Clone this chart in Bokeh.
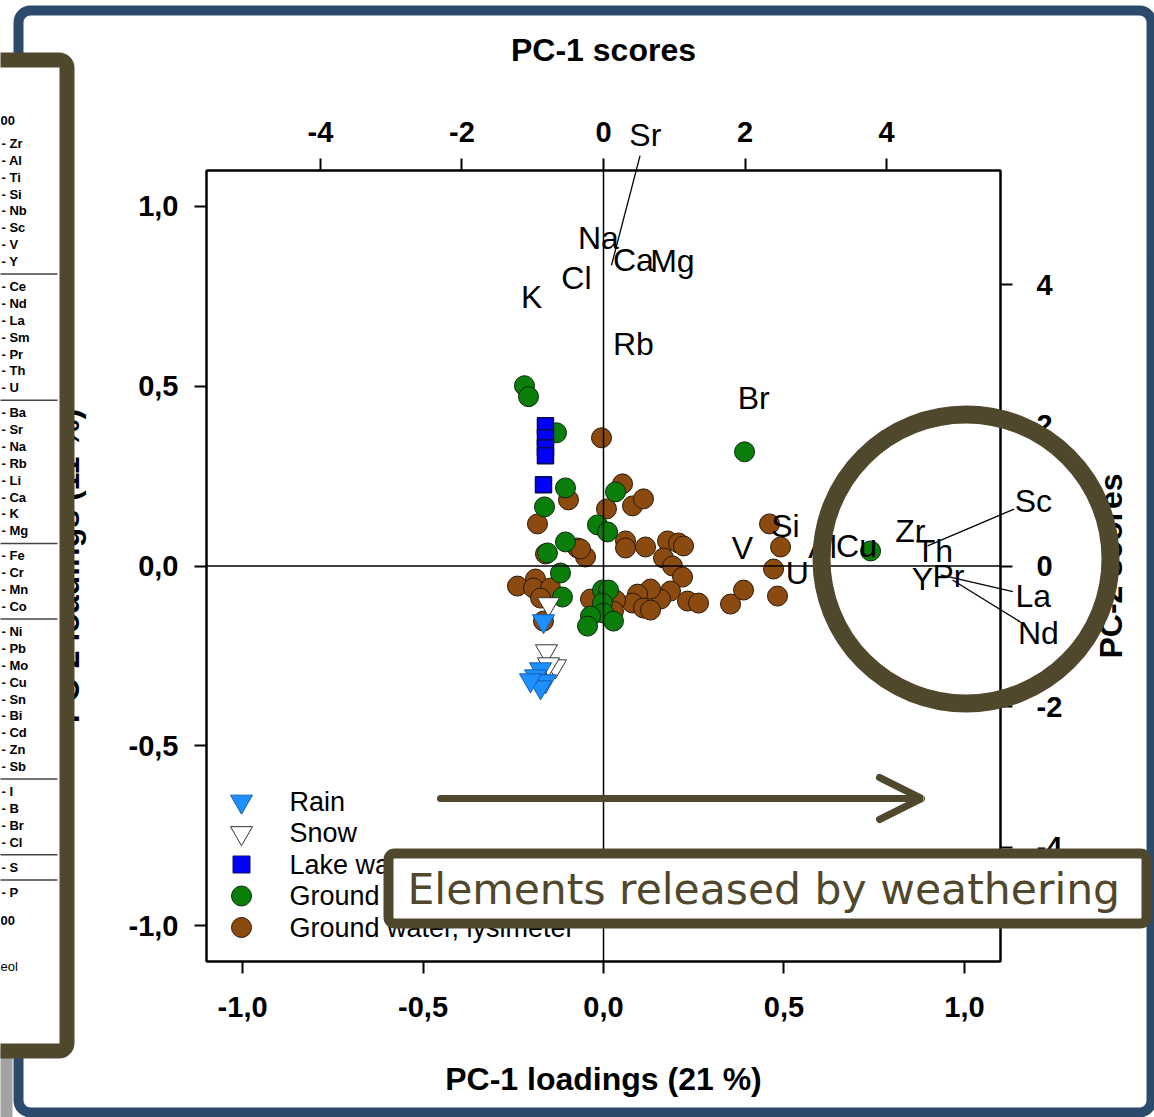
import numpy as np
from bokeh.plotting import figure
from bokeh.models import (Range1d, LinearAxis, FixedTicker, CustomJSTickFormatter, Span,
                          Arrow, OpenHead)
from bokeh.core.properties import value
from bokeh.embed import file_html
from bokeh.resources import INLINE

# ---------------- PCA scores (PC-1, PC-2) by sample type ----------------
rain_pc1 = [-0.848, -0.890, -0.961, -0.820, -0.890, -1.032]
rain_pc2 = [-0.783, -1.466, -1.566, -1.637, -1.722, -1.623]

snow_pc1 = [-0.777, -0.806, -0.678, -0.777]
snow_pc2 = [-0.541, -1.210, -1.423, -1.395]

lake_pc1 = [-0.820, -0.820, -0.820, -0.820, -0.848]
lake_pc2 = [1.993, 1.822, 1.680, 1.566, 1.153]

well_pc1 = [-1.117, -1.060, -0.664, -0.537, -0.834, 0.170, -0.085, 0.057, -0.537, -0.792,
            -0.608, -0.580, -0.014, 0.071, -0.014, 0.000, -0.184, -0.226, 0.141, 1.993, 3.774]
well_pc2 = [2.562, 2.406, 1.893, 1.110, 0.840, 1.053, 0.584, 0.484, 0.342, 0.185,
            -0.100, -0.441, -0.342, -0.342, -0.527, -0.669, -0.712, -0.854, -0.783, 1.623, 0.214]

lys_pc1 = [-0.028, 0.269, 0.410, 0.565, 0.042, -0.495, -0.933, -0.820, -0.367, -0.254,
           0.311, 0.311, 0.594, 0.905, 1.060, 1.131, 0.848, 0.975, 1.117, 0.947,
           0.806, 0.664, 0.481, 0.410, 0.565, 0.664, 1.187, 1.343, 1.795, 1.979,
           2.346, 2.502, 2.403, 2.459, -1.216, -0.961, -0.989, -0.749, -0.890, -0.184,
           0.170, 0.141, -0.848, -0.933, -0.325]
lys_pc2 = [1.822, 1.167, 0.854, 0.954, 0.811, 0.940, 0.598, 0.171, 0.256, 0.128,
           0.356, 0.256, 0.270, 0.356, 0.327, 0.285, 0.114, 0.000, -0.157, -0.356,
           -0.470, -0.327, -0.399, -0.527, -0.598, -0.626, -0.498, -0.527, -0.541, -0.342,
           0.598, 0.270, -0.043, -0.427, -0.285, -0.185, -0.313, -0.313, -0.456, -0.470,
           -0.484, -0.641, -0.783, -1.594, 0.242]

legend_labels = ["Rain", "Snow", "Lake water", "Ground water, well", "Ground water, lysimeter"]

# ---------------- PCA loadings of the elements ----------------
elements = ["Sr", "Na", "Ca", "Mg", "Cl", "K", "Rb", "Br", "Si", "V",
            "U", "Al", "Cu", "Zr", "Th", "Y", "Pr", "Sc", "La", "Nd"]
load_pc1 = [0.022, -0.014, 0.083, 0.191, -0.075, -0.199, 0.083, 0.416, 0.504, 0.385,
            0.537, 0.607, 0.701, 0.850, 0.917, 0.884, 0.956, 0.898, 0.934, 0.967]
load_pc2 = [0.836, 0.911, 0.850, 0.847, 0.802, 0.747, 0.618, 0.468, 0.111, 0.050,
            -0.019, 0.053, 0.056, 0.097, 0.042, -0.036, -0.028, 0.056, -0.025, -0.039]

# labels moved away from crowded loadings, joined by a leader line
callout_names = ["Sr", "Sc", "La", "Nd"]
callout_pc1 = [0.116, 1.191, 1.191, 1.205]
callout_pc2 = [1.198, 0.181, -0.084, -0.187]

loading_ticks = [-1.0, -0.5, 0.0, 0.5, 1.0]
score_ticks = [-4, -2, 0, 2, 4]

# element groups of the neighbouring cluster panel
cluster_groups = [["Zr", "Al", "Ti", "Si", "Nb", "Sc", "V", "Y"],
                  ["Ce", "Nd", "La", "Sm", "Pr", "Th", "U"],
                  ["Ba", "Sr", "Na", "Rb", "Li", "Ca", "K", "Mg"],
                  ["Fe", "Cr", "Mn", "Co"],
                  ["Ni", "Pb", "Mo", "Cu", "Sn", "Bi", "Cd", "Zn", "Sb"],
                  ["I", "B", "Br", "Cl"],
                  ["S"],
                  ["P"]]

# ---------------- styling ----------------
OLIVE = "#4f482c"
NAVY = "#2c4a6b"
FONT = "Liberation Sans"
RAIN_C = "#1e8fff"
LAKE_C = "#0000ff"
WELL_C = "#0b7d0b"
LYS_C = "#8b4a0f"

W, H = 1154, 1117
# plot frame on the page (canvas pixels)
F_LEFT, F_RIGHT, F_TOP, F_BOTTOM = 206, 1000, 170, 961
LOAD_LIM = 1.1

# =====================================================================
# chart: biplot frame with loading axes (bottom/left) and score axes (top/right)
# =====================================================================
chart = figure(width=W, height=H, output_backend="svg", toolbar_location=None, title=None,
               x_range=Range1d(-LOAD_LIM, LOAD_LIM), y_range=Range1d(-LOAD_LIM, LOAD_LIM),
               x_axis_location=None, y_axis_location=None,
               min_border_left=F_LEFT, min_border_right=W - F_RIGHT,
               min_border_top=F_TOP, min_border_bottom=H - F_BOTTOM,
               background_fill_color="white", border_fill_color="white")
chart.xgrid.grid_line_color = None
chart.ygrid.grid_line_color = None
chart.outline_line_color = "black"
chart.outline_line_width = 2
chart.extra_x_ranges = {"scores": Range1d(-5.61, 5.61), "px": Range1d(F_LEFT, F_RIGHT)}
chart.extra_y_ranges = {"scores": Range1d(-5.62, 5.62), "px": Range1d(F_BOTTOM, F_TOP)}

comma_fmt = CustomJSTickFormatter(code="return tick.toFixed(1).replace('.', ',');")
int_fmt = CustomJSTickFormatter(code="return tick.toFixed(0);")


def style_axis(ax, standoff, label_standoff=0):
    ax.axis_line_width = 2
    ax.major_tick_line_width = 2
    ax.major_tick_out = 12
    ax.major_tick_in = 0
    ax.minor_tick_line_color = None
    ax.major_label_standoff = standoff
    ax.major_label_text_font = FONT
    ax.major_label_text_font_size = "29px"
    ax.major_label_text_font_style = "bold"
    ax.major_label_text_color = "black"
    ax.axis_label_text_font = FONT
    ax.axis_label_text_font_size = "32px"
    ax.axis_label_text_font_style = "bold"
    ax.axis_label_text_color = "black"
    ax.axis_label_standoff = label_standoff


ax_below = LinearAxis(ticker=FixedTicker(ticks=loading_ticks), formatter=comma_fmt,
                      axis_label="PC-1 loadings (21 %)")
style_axis(ax_below, 23, 41)
chart.add_layout(ax_below, "below")

ax_left = LinearAxis(ticker=FixedTicker(ticks=loading_ticks), formatter=comma_fmt,
                     axis_label="PC-2 loadings (11 %)")
style_axis(ax_left, 16, 40)
chart.add_layout(ax_left, "left")

ax_above = LinearAxis(x_range_name="scores", ticker=FixedTicker(ticks=score_ticks),
                      formatter=int_fmt, axis_label="PC-1 scores")
style_axis(ax_above, 17, 51)
chart.add_layout(ax_above, "above")

ax_right = LinearAxis(y_range_name="scores", ticker=FixedTicker(ticks=score_ticks),
                      formatter=int_fmt)
style_axis(ax_right, 24)
chart.add_layout(ax_right, "right")

# zero lines
chart.add_layout(Span(location=0, dimension="height", line_color="black", line_width=1.5))
chart.add_layout(Span(location=0, dimension="width", line_color="black", line_width=1.5))

# scores
sc = dict(x_range_name="scores", y_range_name="scores")
chart.scatter(lys_pc1, lys_pc2, marker="circle", size=20, fill_color=LYS_C,
              line_color="#2b1805", line_width=1, **sc)
chart.scatter(well_pc1, well_pc2, marker="circle", size=20, fill_color=WELL_C,
              line_color="#0a2a0a", line_width=1, **sc)
chart.scatter(lake_pc1, lake_pc2, marker="square", size=16, fill_color=LAKE_C,
              line_color="#0a0a50", line_width=1.5, **sc)
chart.scatter(snow_pc1, snow_pc2, marker="inverted_triangle", size=22, fill_color="white",
              line_color="#333333", line_width=1, **sc)
chart.scatter(rain_pc1, rain_pc2, marker="inverted_triangle", size=22, fill_color=RAIN_C,
              line_color="#1560b0", line_width=1, **sc)

# legend, laid out by hand in pixel space inside the frame
px = dict(x_range_name="px", y_range_name="px")
leg_x0, leg_y0, leg_dy = 241, 801, 31.5
leg_rows = [leg_y0 + i * leg_dy for i in range(len(legend_labels))]
leg_styles = [("inverted_triangle", 22, RAIN_C, "#1560b0"),
              ("inverted_triangle", 22, "white", "#333333"),
              ("square", 17, LAKE_C, "#101060"),
              ("circle", 20, WELL_C, "#0a2a0a"),
              ("circle", 20, LYS_C, "#2b1805")]
for yy, (mk, sz, fc, lc) in zip(leg_rows, leg_styles):
    chart.scatter([leg_x0], [yy], marker=mk, size=sz, fill_color=fc, line_color=lc,
                  line_width=1, **px)
chart.text(x=[leg_x0 + 48] * len(legend_labels), y=leg_rows, text=legend_labels,
           text_font=value(FONT), text_font_size="27px", text_baseline="middle",
           text_align="left", text_color="black", **px)

# =====================================================================
# overlay: labels reaching past the frame, the page frame and the annotations
# =====================================================================
over = figure(width=W, height=H, output_backend="svg", toolbar_location=None, title=None,
              x_range=Range1d(0, W), y_range=Range1d(H, 0),
              x_axis_location=None, y_axis_location=None, min_border=0,
              background_fill_alpha=0, border_fill_alpha=0)
over.xgrid.grid_line_color = None
over.ygrid.grid_line_color = None
over.outline_line_color = None

# loading coordinates laid over the same frame as the chart
sx = (F_RIGHT - F_LEFT) / (2 * LOAD_LIM)
sy = (F_BOTTOM - F_TOP) / (2 * LOAD_LIM)
over.extra_x_ranges = {"load": Range1d(-LOAD_LIM - F_LEFT / sx, -LOAD_LIM + (W - F_LEFT) / sx)}
over.extra_y_ranges = {"load": Range1d(-LOAD_LIM - (H - F_BOTTOM) / sy,
                                       LOAD_LIM + F_TOP / sy)}
ld = dict(x_range_name="load", y_range_name="load")

lab_x = list(load_pc1)
lab_y = list(load_pc2)
lx0, ly0, lx1, ly1 = [], [], [], []
for name, cx, cy in zip(callout_names, callout_pc1, callout_pc2):
    i = elements.index(name)
    lab_x[i], lab_y[i] = cx, cy
    # the leader line stops just short of its label
    dx, dy = (cx - load_pc1[i]) * sx, (cy - load_pc2[i]) * sy
    f = (np.hypot(dx, dy) - 21) / np.hypot(dx, dy)
    lx0.append(load_pc1[i])
    ly0.append(load_pc2[i])
    lx1.append(load_pc1[i] + f * (cx - load_pc1[i]))
    ly1.append(load_pc2[i] + f * (cy - load_pc2[i]))
over.segment(lx0, ly0, lx1, ly1, line_color="black", line_width=1.3, **ld)
over.text(x=lab_x, y=lab_y, text=elements, text_font=value(FONT), text_font_size="32px",
          text_align="center", text_baseline="middle", text_color="black", **ld)

# right-hand score axis title, reading upwards
over.text(x=[1110], y=[(F_TOP + F_BOTTOM) / 2], text=["PC-2 scores"], angle=np.pi / 2,
          text_font=value(FONT), text_font_size="32px", text_font_style="bold",
          text_align="center", text_baseline="middle", text_color="black")

# page frame
over.quad(left=[-5], right=[12], top=[1045], bottom=[1125], fill_color="#a3a3a3",
          line_color=None)
over.quad(left=[18], right=[1151], top=[10], bottom=[1112], fill_alpha=0,
          line_color=NAVY, line_width=10, border_radius=12)

# neighbouring cluster panel, cut by the page edge
over.quad(left=[-40], right=[66.5], top=[59.5], bottom=[1050.5], fill_color="white",
          line_color=OLIVE, line_width=15, border_radius=8)
pitch, gap = 16.85, 8.3
cl_names, cl_y, sep_y = [], [], []
yy = 143.0
for gi, grp in enumerate(cluster_groups):
    for name in grp:
        cl_names.append("- " + name)
        cl_y.append(yy)
        yy += pitch
    if gi < len(cluster_groups) - 1:
        sep_y.append(yy - pitch + (pitch + gap) / 2)
        yy += gap
over.text(x=[1] * len(cl_names), y=cl_y, text=cl_names, text_font=value(FONT),
          text_font_size="13px", text_font_style="bold", text_baseline="middle",
          text_align="left", text_color="black")
over.segment(x0=[-5] * len(sep_y), y0=sep_y, x1=[57] * len(sep_y), y1=sep_y,
             line_color="#444444", line_width=1.5)
over.text(x=[0, 0], y=[120, yy + 28 - pitch], text=["00", "00"], text_font=value(FONT),
          text_font_size="13px", text_font_style="bold", text_baseline="middle",
          text_align="left", text_color="black")
over.text(x=[0], y=[966], text=["eol"], text_font=value(FONT), text_font_size="13px",
          text_baseline="middle", text_align="left", text_color="black")

# highlight ring around the weathering elements
over.circle(x=[965.5], y=[558.5], radius=144.5, fill_alpha=0, line_color=OLIVE,
            line_width=18)

# arrow towards the weathering end of PC-1
over.add_layout(Arrow(x_start=440, y_start=798, x_end=921, y_end=798, line_color=OLIVE,
                      line_width=7, line_cap="round",
                      end=OpenHead(size=42, line_color=OLIVE, line_width=7, line_cap="round")))

# caption box
over.quad(left=[388], right=[1146], top=[853], bottom=[923], fill_color="white",
          line_color=OLIVE, line_width=10, border_radius=6)
over.text(x=[407], y=[889], text=["Elements released by weathering"],
          text_font=value("DejaVu Sans"), text_font_size="42.5px", text_color=OLIVE,
          text_align="left", text_baseline="middle")

# the overlay is a separate root, pinned over the chart
over.styles = {"position": "absolute", "left": "0px", "top": "0px"}

open("out.html", "w").write(file_html([chart, over], INLINE))
